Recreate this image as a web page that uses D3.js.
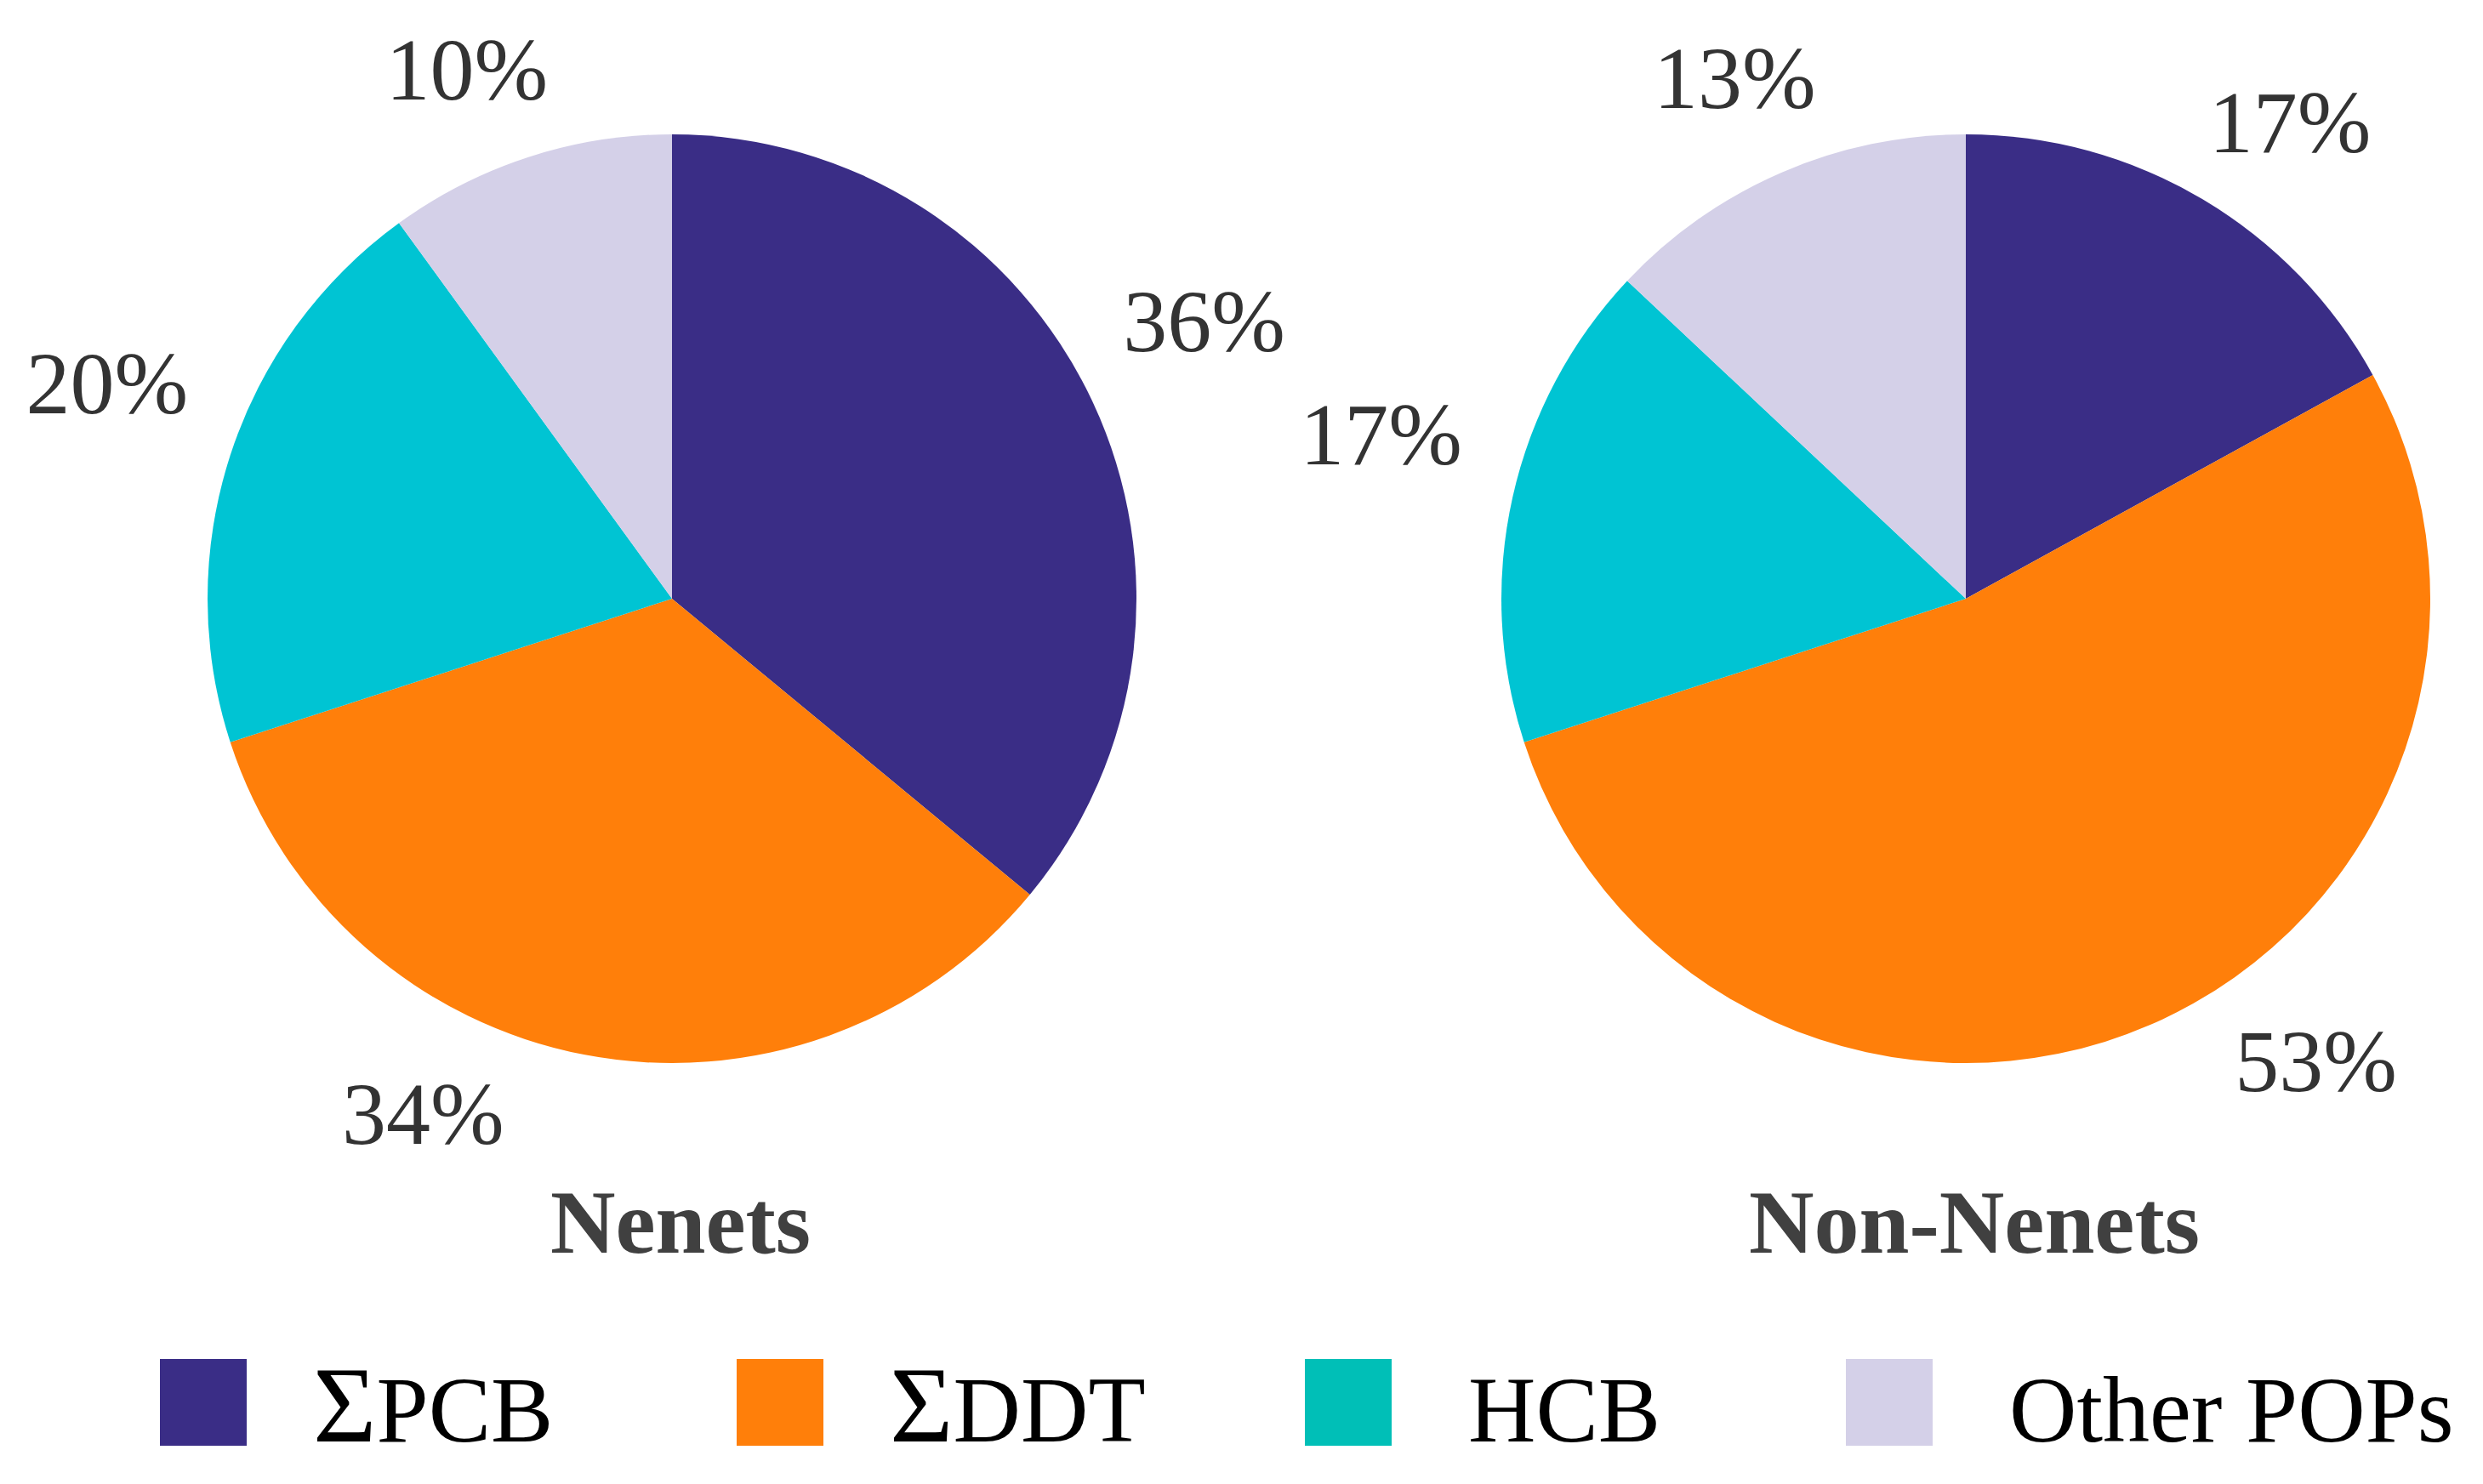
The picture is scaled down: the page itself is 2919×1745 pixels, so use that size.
<!DOCTYPE html>
<html>
<head>
<meta charset="utf-8">
<script src="https://cdn.jsdelivr.net/npm/d3@7"></script>
<style>
  body { margin: 0; background: #fff; }
  text { font-family: "Palatino Linotype", "Book Antiqua", Palatino, "Liberation Serif", serif; }
</style>
</head>
<body>
<script>
// categories and values
var categories = ["PCB", "DDT", "HCB", "Other POPs"];
var groups = ["Nenets", "Non-Nenets"];
var nenetsValues = [36, 34, 20, 10];
var nonNenetsValues = [17, 53, 17, 13];

var pieColors = ["#3a2d86", "#ff7f0a", "#00c4d3", "#d4d0e8"];
var legendColors = ["#3a2d86", "#ff7f0a", "#00bfb7", "#d4d0e8"];

var W = 2919, H = 1745;
var R = 546;
var centers = [[790, 704], [2311, 704]];
// small angle nudges (degrees) for the label placement, like the original
var labelShift = [[-4.4, 13.2, 4.6, -1.6], [1.4, -11.5, 4.5, 1.2]];

var svg = d3.select("body").append("svg")
   .attr("width", W)
   .attr("height", H);

var pie = d3.pie().sort(null).value(function(d) { return d; });
var arc = d3.arc().innerRadius(0).outerRadius(R);

[nenetsValues, nonNenetsValues].forEach(function(vals, k) {
  var g = svg.append("g")
     .attr("transform", "translate(" + centers[k][0] + "," + centers[k][1] + ")");

  var arcs = pie(vals);

  g.selectAll("path")
     .data(arcs)
     .enter()
     .append("path")
     .attr("d", arc)
     .style("fill", function(d, i) { return pieColors[i]; });

  // percentage labels outside the pie
  g.selectAll("text.lab")
     .data(arcs)
     .enter()
     .append("text")
     .attr("class", "lab")
     .text(function(d) { return d.data + "%"; })
     .style("font-size", "104px")
     .style("fill", "#333")
     .attr("text-anchor", "middle")
     .attr("dy", "0.35em")
     .each(function(d, i) {
        var a = (d.startAngle + d.endAngle) / 2 + labelShift[k][i] * Math.PI / 180;
        var ux = Math.sin(a), uy = -Math.cos(a);
        var hw = this.getComputedTextLength() / 2, hh = 38;
        var rr = R + 78;
        d3.select(this)
           .attr("x", ux * (rr + hw))
           .attr("y", uy * (rr + hh));
     });

  svg.append("text")
     .attr("x", centers[k][0] + 10)
     .attr("y", 1473)
     .attr("text-anchor", "middle")
     .style("font-size", "106px")
     .style("font-weight", "bold")
     .style("fill", "#404040")
     .text(groups[k]);
});

// legend
var legendX = [188, 866, 1534, 2170];
var legendSigma = [true, true, false, false];
var leg = svg.selectAll("g.legend")
   .data(categories)
   .enter()
   .append("g")
   .attr("class", "legend")
   .attr("transform", function(d, i) { return "translate(" + legendX[i] + ",1598)"; });

leg.append("rect")
   .attr("width", 102)
   .attr("height", 102)
   .style("fill", function(d, i) { return legendColors[i]; });

leg.append("text")
   .attr("x", function(d, i) { return legendSigma[i] ? 180 : 192; })
   .attr("y", 97)
   .style("font-size", "110px")
   .style("fill", "#000")
   .each(function(d, i) {
      var t = d3.select(this);
      if (legendSigma[i]) {
        t.append("tspan").style("font-size", "128px").text("\u03A3");
      }
      t.append("tspan").text(d);
   });
</script>
</body>
</html>
